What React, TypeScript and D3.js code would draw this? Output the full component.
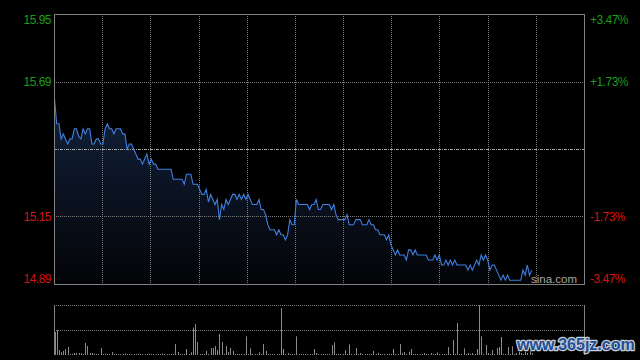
import React from "react";
import * as d3 from "d3";

const prevClose = 15.42;
const pctRange = 0.0347;
const totalMinutes = 241;

const tickSteps = [2, 1, -1, -2];
const priceLabels = ["15.95", "15.69", "15.15", "14.89"];
const pctLabels = ["+3.47%", "+1.73%", "-1.73%", "-3.47%"];

const minutes = [0,1,2,3,4,5,6,7,8,9,10,11,12,13,14,15,16,17,18,19,20,21,22,23,24,25,26,27,28,30,31,32,33,34,35,36,37,38,39,40,41,42,43,44,45,46,47,53,54,58,59,60,62,63,65,66,67,68,69,70,71,72,73,74,75,76,77,78,79,80,81,82,83,84,85,86,87,88,89,90,92,93,94,95,96,97,98,100,101,102,103,104,105,106,107,108,109,110,111,115,116,117,118,119,120,121,122,125,126,127,128,129,132,133,134,136,137,139,140,142,143,144,145,146,147,148,150,151,152,153,154,155,156,157,159,160,161,162,163,164,165,169,170,172,173,174,175,176,177,178,179,180,181,182,183,187,188,189,190,191,192,193,194,195,196,197,198,199,200,201,202,203,204,205,206,207,212,213,214,215,216,217];
const prices = [15.62,15.52,15.52,15.46,15.48,15.46,15.44,15.46,15.46,15.50,15.50,15.47,15.46,15.50,15.48,15.50,15.50,15.44,15.44,15.46,15.46,15.44,15.44,15.50,15.52,15.50,15.50,15.48,15.50,15.50,15.48,15.48,15.42,15.44,15.44,15.42,15.40,15.38,15.38,15.36,15.38,15.40,15.36,15.38,15.36,15.36,15.34,15.34,15.30,15.30,15.28,15.32,15.32,15.28,15.28,15.26,15.24,15.24,15.26,15.21,15.24,15.22,15.20,15.22,15.14,15.20,15.18,15.22,15.20,15.22,15.24,15.24,15.22,15.24,15.22,15.24,15.22,15.24,15.22,15.20,15.20,15.22,15.18,15.18,15.16,15.12,15.10,15.10,15.08,15.10,15.08,15.08,15.06,15.08,15.14,15.12,15.12,15.22,15.20,15.20,15.18,15.20,15.20,15.22,15.18,15.18,15.20,15.20,15.18,15.20,15.16,15.14,15.14,15.16,15.12,15.12,15.14,15.14,15.12,15.12,15.14,15.12,15.12,15.10,15.10,15.08,15.08,15.06,15.08,15.04,15.02,15.00,15.02,15.00,15.00,14.98,15.02,15.02,15.00,15.02,15.00,15.00,14.98,14.98,15.00,14.98,15.00,14.96,14.96,14.98,14.96,14.98,14.96,14.98,14.96,14.96,14.94,14.96,14.94,14.96,14.98,14.96,15.00,14.98,15.00,14.98,14.94,14.96,14.96,14.94,14.92,14.90,14.92,14.90,14.92,14.90,14.90,14.94,14.92,14.96,14.92,14.94];

const volumes = [
  23,25,5,2.7,4,6,8,1,1,2,
  2,2,2,1,12,9,2,2,1,1,
  1,7,1,1.5,1,1,3,1,1,1,
  1,1,1.5,1,1,1,1,1,1.5,1,
  1,1,1,1.5,1,1,1,1,1,1.5,
  1,1,1,1,1,11,3,1,1,1,
  6,1,2.7,27.5,31,13,1,1,1,4,
  1,7,7,9,5,21,13,1,9,3,
  7,4,1,1,1,1,1,18.7,1,6.7,
  1,1,1,2.7,1,11,4,1,1,1,
  1,1,1,47,6,1,2,1,1,1,
  18.7,1,1,1,1,1,1,1,6,2,
  1,1,1,1,1,1,10,12.7,1,1,
  1,1,4.7,1,10.7,1,1,7,1,2,
  1,1,1,1,1,4,1,2,1,1,
  1,1,1,1,6,1,1,11,2,3,
  1,3.3,6,1,1,1,1,1,2,1,
  1,2,1,1,2.5,1,1,1,1,8,
  1,15,1,32,1,1,6.7,1,2,1,
  2,1,6,50,18.7,1,10,2,1,5,
  1,7,8,18,1,1,8,1,8.7,1,
  2,3,2,1,3,2,4,2
];
const volMax = 50;
const verticalCols = 11;

export default function App() {
  const L = 54, R = 584, T = 14, B = 284;
  const VT = 305, VB = 355;
  const x = d3.scaleLinear().domain([0, totalMinutes]).range([L, R]);
  const y = d3.scaleLinear()
    .domain([prevClose * (1 - pctRange), prevClose * (1 + pctRange)])
    .range([B, T]);
  const yv = d3.scaleLinear().domain([0, volMax]).range([VB, VT]);

  const pts = minutes.map((m, i) => [m, prices[i]] as [number, number]);
  const line = d3.line<[number, number]>().x(d => x(d[0]) + 0.5).y(d => y(d[1]));
  const area = d3.area<[number, number]>().x(d => x(d[0]) + 0.5).y0(B).y1(d => y(d[1]));

  const font = "Arial, 'Liberation Sans', sans-serif";
  const green = "#1c9c1c";
  const red = "#d41414";
  const stepY = (s: number) => y(prevClose * (1 + s * pctRange / 2));

  return (
    <svg width={640} height={360} style={{ position: "absolute", left: 0, top: 0, background: "#000" }}>
      <defs>
        <linearGradient id="fillg" gradientUnits="userSpaceOnUse" x1="0" y1="95" x2="0" y2={B}>
          <stop offset="0" stopColor="#13223d" />
          <stop offset="1" stopColor="#030407" />
        </linearGradient>
      </defs>
      <rect x={0} y={0} width={640} height={360} fill="#000" />
      <path d={area(pts) || ""} fill="url(#fillg)" />
      {d3.range(1, verticalCols).map(k => {
        const xx = Math.round(L + (R - L) * k / verticalCols) + 0.5;
        return <line key={"v" + k} x1={xx} x2={xx} y1={T} y2={B} stroke="#7a7a7a" strokeDasharray="1,1" />;
      })}
      {[1, -1].map(s => {
        const gy = Math.round(stepY(s)) + 0.5;
        return <line key={"h" + s} x1={L} x2={R} y1={gy} y2={gy} stroke="#7a7a7a" strokeDasharray="1,1" />;
      })}
      <line x1={L} x2={R} y1={Math.round(stepY(0)) + 0.5} y2={Math.round(stepY(0)) + 0.5} stroke="#a6a6a6" strokeDasharray="3,1,1,1" />
      <path d={line(pts) || ""} fill="none" stroke="#3f7fdf" strokeWidth={1.1} />
      <rect x={L + 0.5} y={T + 0.5} width={R - L} height={B - T} fill="none" stroke="#808080" />
      {tickSteps.map((s, i) => {
        const gy = Math.min(Math.max(stepY(s), 20), 278.5) + 4.3;
        const col = s > 0 ? green : red;
        return (
          <g key={"l" + s} fontFamily={font} fontSize={12} fill={col}>
            <text x={51} y={gy} textAnchor="end" letterSpacing={-0.5}>{priceLabels[i]}</text>
            <text x={590} y={gy} letterSpacing={-0.5}>{pctLabels[i]}</text>
          </g>
        );
      })}
      <text x={531} y={283} fontFamily={font} fontSize={11.5} fill="#a8a8a8">sina.com</text>

      {/* volume panel */}
      <line x1={L} x2={R} y1={VT + 0.5} y2={VT + 0.5} stroke="#7a7a7a" strokeDasharray="1,1" />
      <line x1={L} x2={R} y1={Math.round(yv(volMax / 2)) + 0.5} y2={Math.round(yv(volMax / 2)) + 0.5} stroke="#7a7a7a" strokeDasharray="1,1" />
      {volumes.map((v, i) => {
        const xx = Math.floor(x(i) + 1) + 0.5;
        return <line key={"b" + i} x1={xx} x2={xx} y1={VB} y2={yv(v)} stroke="#8a8a8a" strokeWidth={1} />;
      })}
      <line x1={L + 0.5} x2={L + 0.5} y1={VT} y2={VB} stroke="#808080" />
      <line x1={R + 0.5} x2={R + 0.5} y1={VT} y2={VB} stroke="#808080" />

      <text x={517} y={350} fontFamily="'Liberation Sans', Arial, sans-serif" fontWeight="bold" fontSize={16}
        fill="#1f4e98" stroke="#c9cdd4" strokeWidth={2.5} paintOrder="stroke" strokeLinejoin="round">www.365jz.com</text>
    </svg>
  );
}
